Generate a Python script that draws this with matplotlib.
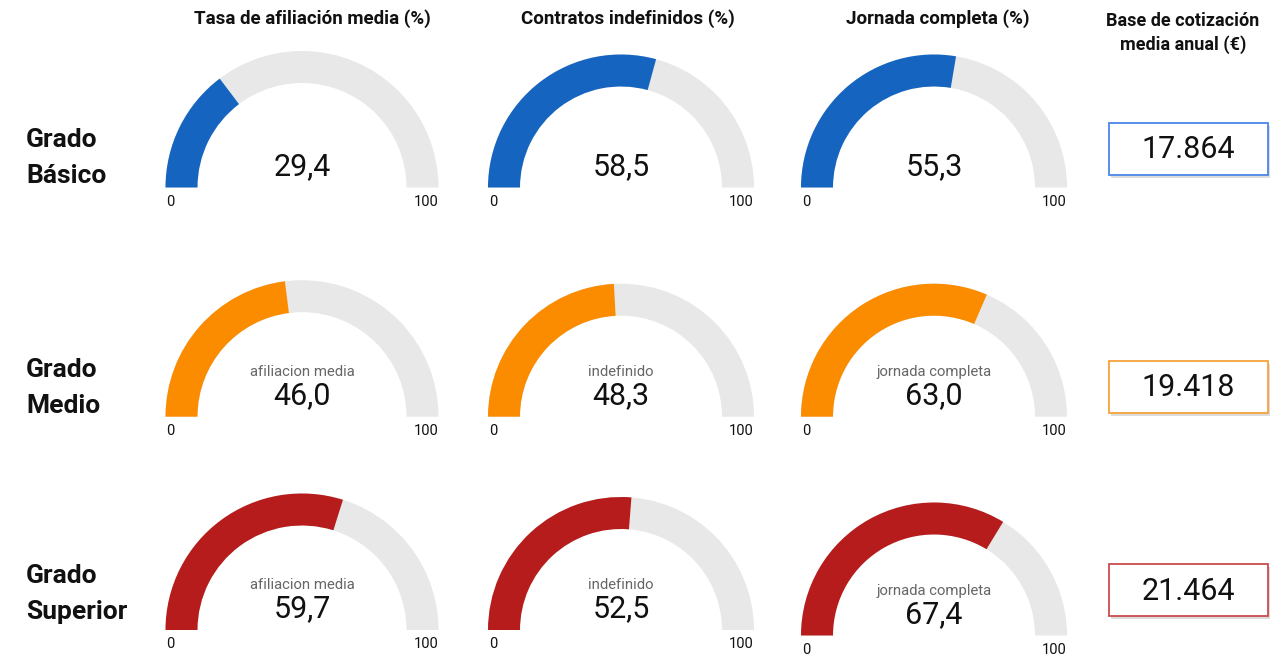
import matplotlib.pyplot as plt
from matplotlib.patches import Wedge, Rectangle

plt.rcParams['font.family'] = ['Roboto', 'DejaVu Sans']

# datos
niveles = [["Grado", "Básico"], ["Grado", "Medio"], ["Grado", "Superior"]]
titulos = ["Tasa de afiliación media (%)", "Contratos indefinidos (%)", "Jornada completa (%)"]
titulo_base = "Base de cotización\nmedia anual (€)"
etiquetas = ["afiliacion media", "indefinido", "jornada completa"]
afiliacion = [29.4, 46.0, 59.7]
indefinidos = [58.5, 48.3, 52.5]
jornada = [55.3, 63.0, 67.4]
base_cotizacion = [17864, 19418, 21464]

colores = ["#1565c0", "#fb8c00", "#b71c1c"]
bordes = ["#4a86e8", "#f6a33c", "#cc4c4c"]
gris = "#e8e8e8"

W, H = 1272, 654
fig = plt.figure(figsize=(W / 100, H / 100), dpi=100)
ax = fig.add_axes([0, 0, 1, 1])
ax.set_xlim(0, W)
ax.set_ylim(H, 0)
ax.axis('off')

col_x = [302, 621, 934]
col_r = [136.5, 133, 133]
fila_y = [187.5, 416.7, 630]
grosor = 32

def fmt_dec(v):
    return f"{v:.1f}".replace('.', ',')

def gauge(cx, cy, r, v, color, etiqueta=None):
    # fondo gris y arco relleno (eje y invertido: 180-360 es la mitad superior)
    ax.add_patch(Wedge((cx, cy), r, 180, 360, width=grosor, color=gris, lw=0))
    ax.add_patch(Wedge((cx, cy), r, 180, 180 + 1.8 * v, width=grosor, color=color, lw=0))
    if etiqueta is not None:
        ax.text(cx, cy - 45, etiqueta, ha='center', va='center', fontsize=10.7, color='#666666')
    ax.text(cx, cy - 21, fmt_dec(v), ha='center', va='center', fontsize=22, color='#111111')
    ax.text(cx - r + 1, cy + 14, "0", ha='left', va='center', fontsize=10.5, color='#111111')
    ax.text(cx + r, cy + 14, "100", ha='right', va='center', fontsize=10.5, color='#111111')

for j, t in enumerate(titulos):
    ax.text([312, 628, 938][j], 19, t, ha='center', va='center', fontsize=13.5,
            fontweight='bold', color='#111111')
ax.text(1183, 33, titulo_base, ha='center', va='center', fontsize=13,
        fontweight='bold', color='#111111', linespacing=1.4)

series = [afiliacion, indefinidos, jornada]
for i in range(3):
    cy = fila_y[i]
    for j in range(3):
        y = cy + 5.5 if (i == 2 and j == 2) else cy
        gauge(col_x[j], y, col_r[j], series[j][i], colores[i],
              None if i == 0 else etiquetas[j])

    # nombre del nivel
    yc = [158, 388, 594][i]
    ax.text(26, yc - 18, niveles[i][0], ha='left', va='center', fontsize=19,
            fontweight='bold', color='#111111')
    ax.text(26, yc + 18, niveles[i][1], ha='left', va='center', fontsize=19,
            fontweight='bold', color='#111111')

    # caja con la base de cotización
    by = [123, 361, 564][i]
    ax.add_patch(Rectangle((1111, by + 2.5), 159, 52, color='#bbbbbb', alpha=0.5, lw=0))
    ax.add_patch(Rectangle((1109, by), 159, 52, facecolor='white', edgecolor=bordes[i], lw=1.3))
    ax.text(1188.5, by + 27, f"{base_cotizacion[i]:,}".replace(',', '.'), ha='center',
            va='center', fontsize=22, color='#111111')

fig.savefig("out.png", dpi=100, facecolor='white')
